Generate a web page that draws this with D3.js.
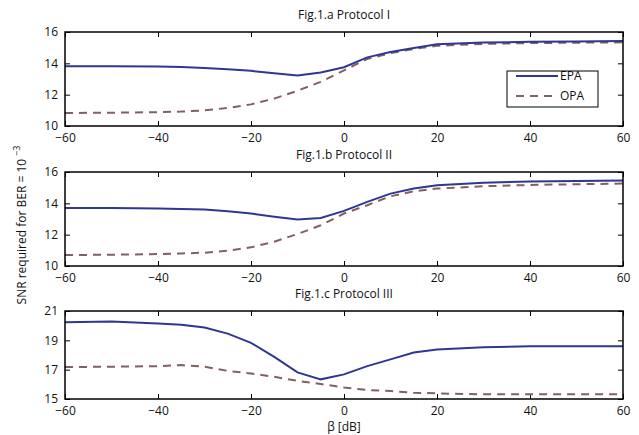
<!DOCTYPE html>
<html>
<head>
<meta charset="utf-8">
<script src="https://cdn.jsdelivr.net/npm/d3@7"></script>
<style>
  body { margin: 0; background: #fff; }
  text { font-family: "Open Sans", "DejaVu Sans", sans-serif; }
</style>
</head>
<body>
<div id="chart"></div>
<script>
// beta values (dB)
const beta = [-60, -50, -40, -35, -30, -25, -20, -15, -10, -5, 0, 5, 10, 15, 20, 30, 40, 50, 60];

// Fig.1.a Protocol I
const epaA = [13.82, 13.81, 13.8, 13.76, 13.7, 13.62, 13.52, 13.36, 13.23, 13.42, 13.75, 14.38, 14.72, 14.98, 15.22, 15.33, 15.37, 15.4, 15.42];
const opaA = [10.83, 10.85, 10.88, 10.92, 11.0, 11.15, 11.38, 11.75, 12.25, 12.82, 13.55, 14.28, 14.65, 14.92, 15.12, 15.24, 15.29, 15.32, 15.34];

// Fig.1.b Protocol II
const epaB = [13.71, 13.7, 13.67, 13.64, 13.6, 13.5, 13.35, 13.15, 12.97, 13.07, 13.52, 14.09, 14.62, 14.94, 15.15, 15.32, 15.39, 15.42, 15.45];
const opaB = [10.7, 10.72, 10.76, 10.8, 10.85, 10.98, 11.19, 11.55, 12.04, 12.6, 13.35, 13.88, 14.45, 14.77, 14.94, 15.09, 15.17, 15.22, 15.26];

// Fig.1.c Protocol III
const epaC = [20.23, 20.28, 20.14, 20.07, 19.87, 19.46, 18.83, 17.87, 16.81, 16.34, 16.68, 17.24, 17.7, 18.17, 18.38, 18.53, 18.6, 18.6, 18.6];
const opaC = [17.18, 17.2, 17.24, 17.31, 17.2, 16.92, 16.74, 16.51, 16.24, 16.02, 15.79, 15.61, 15.54, 15.43, 15.38, 15.32, 15.32, 15.32, 15.32];

const xTicks = [-60, -40, -20, 0, 20, 40, 60];

const panels = [
  {title: "Fig.1.a Protocol I", epa: epaA, opa: opaA, yDomain: [10, 16], yTicks: [10, 12, 14, 16], top: 32, bottom: 126, legend: true},
  {title: "Fig.1.b Protocol II", epa: epaB, opa: opaB, yDomain: [10, 16], yTicks: [10, 12, 14, 16], top: 172, bottom: 266, legend: false},
  {title: "Fig.1.c Protocol III", epa: epaC, opa: opaC, yDomain: [15, 21], yTicks: [15, 17, 19, 21], top: 311, bottom: 399, legend: false}
];

const width = 639, height = 435;
const left = 65, right = 623;
const epaColor = "#2f3693", opaColor = "#836060";
const fs = 12;

const svg = d3.select("#chart")
  .append("svg")
    .attr("width", width)
    .attr("height", height);

const x = d3.scaleLinear().domain([-60, 60]).range([left, right]);
const fmt = d3.format("");

panels.forEach(p => {
  const y = d3.scaleLinear().domain(p.yDomain).range([p.bottom, p.top]);
  const g = svg.append("g");

  // bottom axis with labels, top axis ticks only
  const xb = g.append("g")
    .attr("transform", `translate(0,${p.bottom})`)
    .call(d3.axisBottom(x).tickValues(xTicks).tickSize(-5).tickPadding(7).tickFormat(fmt));
  const xt = g.append("g")
    .attr("transform", `translate(0,${p.top})`)
    .call(d3.axisTop(x).tickValues(xTicks).tickSize(-5).tickFormat(""));
  // left axis with labels, right axis ticks only
  const yl = g.append("g")
    .attr("transform", `translate(${left},0)`)
    .call(d3.axisLeft(y).tickValues(p.yTicks).tickSize(-5).tickPadding(7).tickFormat(fmt));
  const yr = g.append("g")
    .attr("transform", `translate(${right},0)`)
    .call(d3.axisRight(y).tickValues(p.yTicks).tickSize(-5).tickFormat(""));

  [xb, xt, yl, yr].forEach(a => {
    a.select(".domain").remove();
    a.selectAll(".tick line").attr("stroke", "#000").attr("stroke-width", 1);
    a.selectAll("text").attr("font-size", fs).attr("fill", "#111")
      .attr("font-family", "'Open Sans', sans-serif");
  });

  const line = d3.line()
    .x((d, i) => x(beta[i]))
    .y(d => y(d));

  g.append("path")
    .datum(p.opa)
    .attr("d", line)
    .attr("fill", "none")
    .attr("stroke", opaColor)
    .attr("stroke-width", 2)
    .attr("stroke-dasharray", "8,6");

  g.append("path")
    .datum(p.epa)
    .attr("d", line)
    .attr("fill", "none")
    .attr("stroke", epaColor)
    .attr("stroke-width", 2);

  // box
  g.append("rect")
    .attr("x", left).attr("y", p.top)
    .attr("width", right - left).attr("height", p.bottom - p.top)
    .attr("fill", "none").attr("stroke", "#000").attr("stroke-width", 1.5);

  // title
  g.append("text")
    .attr("x", (left + right) / 2)
    .attr("y", p.top - 13)
    .attr("text-anchor", "middle")
    .attr("font-size", fs)
    .attr("fill", "#111")
    .text(p.title);

  if (p.legend) {
    const lg = g.append("g").attr("transform", "translate(507,71)");
    lg.append("rect")
      .attr("width", 91).attr("height", 36)
      .attr("fill", "#fff").attr("stroke", "#000").attr("stroke-width", 1);
    const items = [{name: "EPA", color: epaColor, dash: null}, {name: "OPA", color: opaColor, dash: "8,6"}];
    items.forEach((it, i) => {
      lg.append("line")
        .attr("x1", 9).attr("x2", 51)
        .attr("y1", 5 + i * 20).attr("y2", 5 + i * 20)
        .attr("stroke", it.color).attr("stroke-width", 2)
        .attr("stroke-dasharray", it.dash);
      lg.append("text")
        .attr("x", 53).attr("y", 9 + i * 20)
        .attr("font-size", fs).attr("fill", "#111")
        .text(it.name);
    });
  }
});

// x label
svg.append("text")
  .attr("x", 344).attr("y", 431)
  .attr("text-anchor", "middle")
  .attr("font-size", fs).attr("fill", "#111")
  .text("β [dB]");

// y label
const ylab = svg.append("text")
  .attr("transform", "translate(26,225) rotate(-90)")
  .attr("text-anchor", "middle")
  .attr("font-size", fs).attr("fill", "#111");
ylab.append("tspan").text("SNR required for BER = 10");
ylab.append("tspan").attr("dy", -6).attr("dx", 3).attr("font-size", 9).text("−3");
</script>
</body>
</html>
